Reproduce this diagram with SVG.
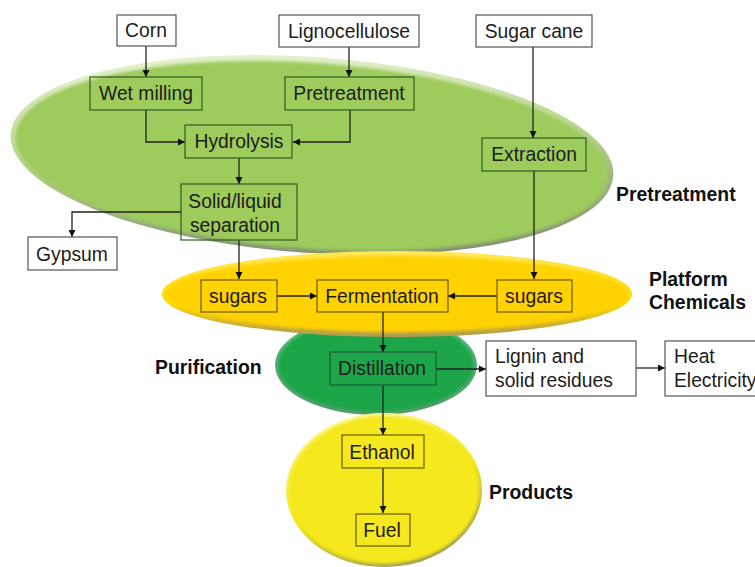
<svg xmlns="http://www.w3.org/2000/svg" width="755" height="567" viewBox="0 0 755 567">
<style>
text{font-family:"Liberation Sans",Arial,sans-serif;font-size:19.3px;fill:#1c1c1c}
.c{text-anchor:middle}
.b{font-weight:bold;font-size:19.4px;fill:#111}
.w{fill:#fff;stroke:#555;stroke-width:1.2}
.g{fill:none;stroke:#2f5a22;stroke-width:1.2}
.y{fill:none;stroke:#6a5a10;stroke-width:1.2}
.e{fill:none;stroke:#1f5a35;stroke-width:1.2}
.l{fill:none;stroke:#222;stroke-width:1.3;marker-end:url(#a)}
.s{filter:url(#soft)}
</style>
<defs>
<marker id="a" markerUnits="userSpaceOnUse" markerWidth="8" markerHeight="8" refX="7" refY="4" orient="auto"><path d="M0 0.5L7 4L0 7.5Z" fill="#111"/></marker>
<filter id="soft" x="-5%" y="-10%" width="110%" height="120%"><feGaussianBlur stdDeviation="1.6"/></filter>
<linearGradient id="gr" x1=".2" y1="0" x2=".6" y2="1"><stop offset="0" stop-color="#eef5d8"/><stop offset=".5" stop-color="#b5d588"/><stop offset="1" stop-color="#7f8f70"/></linearGradient>
<linearGradient id="yr" x1="0" y1="0" x2="0" y2="1"><stop offset="0" stop-color="#ffe85a"/><stop offset=".6" stop-color="#ffd800"/><stop offset="1" stop-color="#b09a50"/></linearGradient>
<linearGradient id="dr" x1="0" y1="0" x2="0" y2="1"><stop offset="0" stop-color="#5cc47c"/><stop offset="1" stop-color="#5a9a70"/></linearGradient>
<linearGradient id="lr" x1=".25" y1="0" x2=".7" y2="1"><stop offset="0" stop-color="#fdfbb0"/><stop offset=".5" stop-color="#f5e81a"/><stop offset="1" stop-color="#98985a"/></linearGradient>
</defs>
<g id="ellipses">
<g id="purification-zone"><ellipse cx="376" cy="365" rx="101" ry="50" fill="url(#dr)"/><ellipse class="s" cx="376" cy="365" rx="98" ry="47" fill="#1fa64a"/></g>
<g id="products-zone"><ellipse cx="384" cy="490" rx="98" ry="77" fill="url(#lr)"/><ellipse class="s" cx="384" cy="490" rx="95" ry="74" fill="#f5e81a"/></g>
<g id="pretreatment-zone"><ellipse cx="312" cy="155" rx="302" ry="98" fill="url(#gr)" transform="rotate(4 312 155)"/><ellipse class="s" cx="312" cy="156" rx="297" ry="93" fill="#9dcb5c" transform="rotate(4 312 156)"/></g>
<g id="platform-zone"><ellipse cx="397" cy="294" rx="235" ry="43" fill="url(#yr)"/><ellipse class="s" cx="397" cy="294" rx="230" ry="38" fill="#ffd200"/></g>
</g>
<g id="connectors">
<path class="l" d="M146 46V77"/>
<path class="l" d="M349 47V77"/>
<path class="l" d="M533 47V138"/>
<path class="l" d="M146 110V142H185"/>
<path class="l" d="M350 110V142H293"/>
<path class="l" d="M239 158V184"/>
<path class="l" d="M181 212H72V237"/>
<path class="l" d="M239 240V279"/>
<path class="l" d="M534 171V279"/>
<path class="l" d="M277 296H317"/>
<path class="l" d="M497 296H448"/>
<path class="l" d="M383 312V352"/>
<path class="l" d="M436 369H486"/>
<path class="l" d="M636 368H665"/>
<path class="l" d="M383 385V435"/>
<path class="l" d="M383 468V513"/>
</g>
<g id="corn"><rect class="w" x="117" y="15" width="59" height="31"/><text class="c" x="146" y="37">Corn</text></g>
<g id="lignocellulose"><rect class="w" x="279" y="15" width="140" height="32"/><text class="c" x="349" y="38">Lignocellulose</text></g>
<g id="sugar-cane"><rect class="w" x="476" y="15" width="116" height="32"/><text class="c" x="534" y="38">Sugar cane</text></g>
<g id="wet-milling"><rect class="g" x="90" y="77" width="112" height="33"/><text class="c" x="146" y="100">Wet milling</text></g>
<g id="pretreatment-step"><rect class="g" x="285" y="77" width="129" height="33"/><text class="c" x="349" y="100">Pretreatment</text></g>
<g id="hydrolysis"><rect class="g" x="185" y="125" width="107" height="33"/><text class="c" x="239" y="148">Hydrolysis</text></g>
<g id="extraction"><rect class="g" x="482" y="138" width="104" height="33"/><text class="c" x="534" y="161">Extraction</text></g>
<g id="separation"><rect class="g" x="181" y="184" width="116" height="56"/><text class="c" x="235" y="208">Solid/liquid</text><text class="c" x="235" y="232">separation</text></g>
<g id="gypsum"><rect class="w" x="28" y="237" width="89" height="33"/><text class="c" x="72" y="261">Gypsum</text></g>
<g id="sugars-left"><rect class="y" x="201" y="280" width="76" height="32"/><text class="c" x="238" y="303">sugars</text></g>
<g id="fermentation"><rect class="y" x="317" y="280" width="131" height="32"/><text class="c" x="382" y="303">Fermentation</text></g>
<g id="sugars-right"><rect class="y" x="497" y="280" width="75" height="32"/><text class="c" x="534" y="303">sugars</text></g>
<g id="distillation"><rect class="e" x="330" y="352" width="106" height="33"/><text class="c" x="382" y="375">Distillation</text></g>
<g id="lignin"><rect class="w" x="486" y="341" width="150" height="55"/><text x="495" y="363">Lignin and</text><text x="495" y="387">solid residues</text></g>
<g id="heat"><rect class="w" x="665" y="341" width="95" height="55"/><text x="674" y="363">Heat</text><text x="674" y="387">Electricity</text></g>
<g id="ethanol"><rect class="y" x="342" y="435" width="82" height="33"/><text class="c" x="382" y="459">Ethanol</text></g>
<g id="fuel"><rect class="y" x="356" y="514" width="54" height="32"/><text class="c" x="382" y="537">Fuel</text></g>
<g id="labels">
<text class="b" x="616" y="201">Pretreatment</text>
<text class="b" x="649" y="286">Platform</text>
<text class="b" x="649" y="309">Chemicals</text>
<text class="b" x="155" y="374">Purification</text>
<text class="b" x="489" y="499">Products</text>
</g>
</svg>
